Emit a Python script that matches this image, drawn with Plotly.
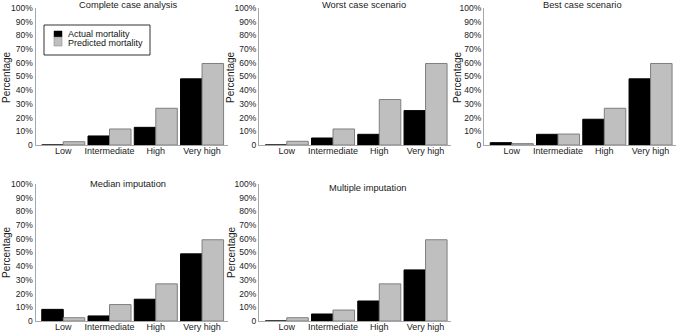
import plotly.graph_objects as go

categories = ["Low", "Intermediate", "High", "Very high"]
panel_titles = ["Complete case analysis", "Worst case scenario", "Best case scenario",
                "Median imputation", "Multiple imputation"]
series_names = ["Actual mortality", "Predicted mortality"]
y_title = "Percentage"
actual = [
    [0.0, 6.6, 12.9, 48.3],
    [0.0, 5.1, 7.8, 25.1],
    [1.7, 7.8, 18.8, 48.3],
    [8.5, 3.7, 15.9, 49.0],
    [0.0, 5.1, 14.6, 37.3],
]
predicted = [
    [2.4, 11.7, 26.8, 59.5],
    [2.7, 11.7, 33.2, 59.5],
    [1.0, 8.0, 26.8, 59.5],
    [2.4, 12.0, 27.1, 59.3],
    [2.4, 8.0, 27.1, 59.3],
]
y_tickvals = [0, 10, 20, 30, 40, 50, 60, 70, 80, 90, 100]
y_ticktext = ["0", "10%", "20%", "30%", "40%", "50%", "60%", "70%", "80%", "90%", "100%"]

W, H = 680, 332
# panel pixel boxes: (x_left, x_right, y_top(100%), y_bottom(0))
boxes = [
    (35.5, 227.5, 8, 145),
    (259.0, 451.0, 8, 145),
    (484.0, 676.0, 8, 145),
    (35.5, 227.5, 184, 321),
    (259.0, 451.0, 184, 321),
]
title_pos = [(128, 5), (364, 5), (582, 5), (128, 184), (368, 188)]
ytitle_pos = [(6, 77), (230, 77), (457, 77), (6, 252), (231, 252)]

BLACK = "#000000"
GRAY = "#bfbfbf"
GRAY_EDGE = "#7f7f7f"
TXT = "#222222"
FONT = "Liberation Sans, Arial, sans-serif"
fig = go.Figure()
for i in range(5):
    xa = "x" if i == 0 else f"x{i+1}"
    ya = "y" if i == 0 else f"y{i+1}"
    fig.add_trace(go.Bar(x=categories, y=actual[i], name=series_names[0],
                         marker=dict(color=BLACK, line=dict(color=BLACK, width=1)),
                         xaxis=xa, yaxis=ya, showlegend=False))
    fig.add_trace(go.Bar(x=categories, y=predicted[i], name=series_names[1],
                         marker=dict(color=GRAY, line=dict(color=GRAY_EDGE, width=1)),
                         xaxis=xa, yaxis=ya, showlegend=False))

def px(x):
    return x / W

def py(y):
    return 1 - y / H

shapes = [
    # legend frame and swatches
    dict(type="rect", xref="paper", yref="paper", x0=px(44), x1=px(150), y0=py(55), y1=py(25),
         line=dict(color="#333333", width=1), fillcolor="white", layer="above"),
    dict(type="rect", xref="paper", yref="paper", x0=px(54), x1=px(62), y0=py(37), y1=py(31),
         line=dict(color=BLACK, width=0.5), fillcolor=BLACK, layer="above"),
    dict(type="rect", xref="paper", yref="paper", x0=px(54), x1=px(62), y0=py(46), y1=py(37),
         line=dict(color=GRAY_EDGE, width=0.5), fillcolor=GRAY, layer="above"),
]
annotations = [
    dict(text=series_names[0], x=px(66), y=py(34.5), xref="paper", yref="paper",
         xanchor="left", yanchor="middle", showarrow=False,
         font=dict(size=9, color="#111111")),
    dict(text=series_names[1], x=px(66), y=py(43.5), xref="paper", yref="paper",
         xanchor="left", yanchor="middle", showarrow=False,
         font=dict(size=9, color="#111111")),
]

layout = dict(
    width=W, height=H, margin=dict(l=0, r=0, t=0, b=0, autoexpand=False),
    paper_bgcolor="white", plot_bgcolor="white",
    barmode="group", bargap=0.07, bargroupgap=0,
    font=dict(family=FONT, size=10, color=TXT),
    showlegend=False,
)
for i, (xl, xr, yt, yb) in enumerate(boxes):
    sx = "" if i == 0 else str(i + 1)
    layout["xaxis" + sx] = dict(
        domain=[xl / W, xr / W], anchor="y" + sx, type="category",
        range=[-0.6, 3.55], showline=True, linecolor="#a6a6a6", linewidth=1,
        ticks="", showgrid=False, zeroline=False, tickfont=dict(size=9, color=TXT),
        ticklabelstandoff=-3, fixedrange=True, automargin=False,
    )
    layout["yaxis" + sx] = dict(
        domain=[1 - yb / H, 1 - yt / H], anchor="x" + sx, range=[0, 100],
        tickvals=y_tickvals, ticktext=y_ticktext, showline=True, linecolor="#a6a6a6",
        linewidth=1, ticks="", showgrid=False, zeroline=False,
        tickfont=dict(size=8.5, color=TXT), fixedrange=True, automargin=False,
    )
    tx, ty = title_pos[i]
    annotations.append(dict(
        text=panel_titles[i], x=px(tx), y=py(ty), xref="paper", yref="paper",
        xanchor="center", yanchor="middle", showarrow=False,
        font=dict(size=9.3, color=TXT)))
    yx, yy = ytitle_pos[i]
    annotations.append(dict(
        text=y_title, x=px(yx), y=py(yy), xref="paper", yref="paper",
        xanchor="center", yanchor="middle", showarrow=False, textangle=-90,
        font=dict(size=10, color=TXT)))

layout["shapes"] = shapes
layout["annotations"] = annotations
fig.update_layout(**layout)
fig.write_html("out.html", config={"displayModeBar": False},
               post_script="document.body.style.margin='0px';document.body.style.overflow='hidden';")
